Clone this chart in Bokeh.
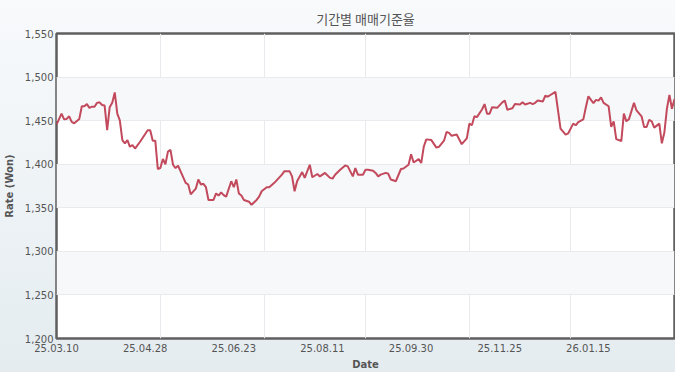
from bokeh.plotting import figure
from bokeh.models import Range1d, FixedTicker
from bokeh.embed import file_html
from bokeh.resources import INLINE

# trading-day index along the x axis and the exchange rate (Won) read at each vertex
day_index = [0, 2, 3, 4, 5, 6, 7, 9, 10, 11, 12, 13, 14, 15, 16, 17, 18, 19, 20, 21,
             22, 23, 24, 25, 26, 27, 28, 29, 30, 31, 33, 36, 37, 38, 39, 40, 41, 42, 43, 44,
             45, 46, 47, 48, 49, 51, 52, 53, 55, 56, 57, 58, 59, 60, 62, 63, 64, 65, 66, 67,
             69, 70, 71, 72, 73, 74, 76, 77, 79, 80, 81, 83, 84, 86, 89, 90, 92, 93, 94, 95,
             97, 98, 100, 101, 103, 104, 105, 106, 108, 109, 110, 112, 114, 115, 117, 118, 119, 121, 122, 123,
             125, 126, 127, 128, 130, 131, 132, 134, 136, 137, 139, 140, 141, 143, 144, 145, 146, 148, 150, 151,
             153, 154, 155, 156, 158, 160, 162, 163, 164, 165, 166, 168, 169, 170, 171, 172, 174, 176, 177, 178,
             180, 181, 183, 184, 185, 187, 188, 189, 190, 192, 193, 194, 195, 197, 198, 199, 201, 202, 204, 205,
             206, 208, 209, 210, 212, 213, 214, 215, 216, 218, 219, 220, 221, 223, 224, 225, 226, 228, 229, 231,
             232, 233, 234, 235, 236, 238, 239, 240, 241, 242, 243, 244]
rate = [1445.5, 1458, 1451.5, 1452, 1455, 1448.5, 1447, 1452, 1466.5, 1466.5, 1469, 1464.7, 1466, 1466, 1470.4, 1471, 1468, 1467.3, 1439, 1465.4,
        1470.4, 1482.4, 1458, 1450.3, 1427.7, 1424, 1427.7, 1420, 1422, 1418, 1425.8, 1439, 1439, 1427, 1427, 1394.5, 1395.6, 1406, 1400, 1414.5,
        1416.4, 1399.4, 1395.6, 1398.2, 1391.8, 1378.6, 1376.7, 1365.4, 1372, 1382.4, 1376.7, 1377.5, 1373.6, 1359, 1359, 1366.5, 1364, 1367.7, 1364.6, 1362.8,
        1380.5, 1373.6, 1382.4, 1366.5, 1364, 1359, 1357, 1353.4, 1359, 1362.8, 1369, 1373.6, 1373.6, 1378.6, 1388, 1392, 1392, 1386, 1369, 1380.5,
        1391, 1384.3, 1399.4, 1385, 1388.8, 1386, 1388, 1390, 1384.3, 1383.5, 1388, 1393.7, 1398.6, 1397.5, 1386, 1395.6, 1388, 1388, 1393.7, 1393.7,
        1392.6, 1390, 1386, 1388, 1390, 1389, 1382.4, 1380.5, 1394.5, 1395, 1399.4, 1411.5, 1402, 1405.8, 1401.3, 1420, 1428.5, 1427.7, 1419, 1420,
        1427, 1437, 1436, 1432.6, 1434, 1423, 1429.6, 1446.6, 1444.7, 1455, 1454, 1462.8, 1469, 1458, 1458, 1465.4, 1464.7, 1471, 1473, 1462.5,
        1464.3, 1469, 1468.5, 1471, 1468.5, 1470.4, 1469, 1470.4, 1473, 1471.9, 1478.6, 1477.5, 1479.4, 1483, 1461.7, 1440.9, 1434, 1435.3, 1446.6, 1444.7,
        1448.4, 1451.5, 1465.4, 1477.9, 1470, 1473.8, 1473, 1476.7, 1470.4, 1466.5, 1442.8, 1449.2, 1428.8, 1426.6, 1458, 1449.2, 1451.5, 1470.4, 1461.7, 1455,
        1442.8, 1442.8, 1451, 1449.2, 1442, 1446.6, 1424, 1436.4, 1463.6, 1479.4, 1463.6, 1474.9, 1493]

tick_index = [0, 35, 70, 105, 140, 175, 210]
tick_labels = ["25.03.10", "25.04.28", "25.06.23", "25.08.11", "25.09.30", "25.11.25", "26.01.15"]
y_ticks = [1200, 1250, 1300, 1350, 1400, 1450, 1500, 1550]

p = figure(width=675, height=372, output_backend="svg", toolbar_location=None,
           x_range=Range1d(0, 244), y_range=Range1d(1200, 1550),
           min_border_left=53, min_border_right=1, min_border_top=29, min_border_bottom=34)

p.styles = {"background": "linear-gradient(180deg, #f8fafc 0%, #e4ecf0 100%)"}
p.border_fill_color = None
p.background_fill_color = "white"
p.outline_line_color = "#5f5f5f"
p.outline_line_width = 2.5

p.title.text = "기간별 매매기준율"
p.title.align = "center"
p.title.text_font = "Noto Sans CJK KR"
p.title.text_font_style = "normal"
p.title.text_font_size = "13px"
p.title.text_color = "#555555"
p.title.standoff = 12

p.line(day_index, rate, line_color="#c24a5c", line_width=2)

p.xaxis.ticker = FixedTicker(ticks=tick_index)
p.xaxis.major_label_overrides = {t: l for t, l in zip(tick_index, tick_labels)}
p.yaxis.ticker = FixedTicker(ticks=y_ticks)
p.yaxis.major_label_overrides = {t: f"{t:,}" for t in y_ticks}

for ax in (p.xaxis, p.yaxis):
    ax.axis_line_color = None
    ax.major_tick_line_color = None
    ax.minor_tick_line_color = None
    ax.major_tick_out = 0
    ax.major_tick_in = 0
    ax.minor_tick_out = 0
    ax.minor_tick_in = 0
    ax.major_label_text_font = "DejaVu Sans"
    ax.major_label_text_font_size = "10px"
    ax.major_label_text_color = "#555555"
    ax.axis_label_text_font = "DejaVu Sans"
    ax.axis_label_text_font_size = "10px"
    ax.axis_label_text_font_style = "bold"
    ax.axis_label_text_color = "#555555"

p.xaxis.axis_label = "Date"
p.yaxis.axis_label = "Rate (Won)"
p.xaxis.major_label_standoff = 5
p.yaxis.major_label_standoff = 3
p.xaxis.axis_label_standoff = 4
p.yaxis.axis_label_standoff = 7

p.xgrid.ticker = FixedTicker(ticks=[0, 41, 82, 122, 163, 203])
p.xgrid.grid_line_color = "#e8eaed"
p.ygrid.grid_line_color = "#e8eaed"
p.ygrid.band_fill_color = "#f6f8fa"
p.ygrid.band_fill_alpha = 1

open("out.html", "w").write(file_html(p, INLINE))
